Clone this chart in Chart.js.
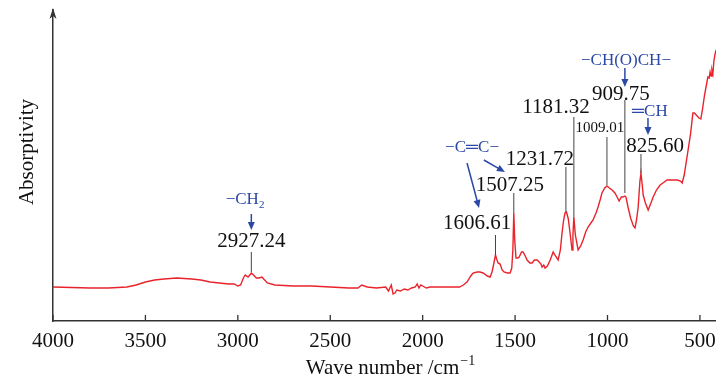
<!DOCTYPE html>
<html lang="en">
<head>
<meta charset="UTF-8">
<title>FTIR spectrum</title>
<script src="https://cdn.jsdelivr.net/npm/chart.js"></script>
<style>
  body { margin: 0; background: #fff; }
</style>
</head>
<body>
<canvas id="myChart" width="716" height="380"></canvas>
<script>
// spectrum (wave number in cm-1, absorptivity in arbitrary units)
const waveNumbers = [4000, 3900, 3800, 3700, 3600, 3550, 3500, 3450, 3400, 3330, 3250, 3200, 3150, 3100, 3050, 3020,
  3000, 2985, 2970, 2960, 2945, 2935, 2927, 2915, 2900, 2885, 2870, 2855, 2840, 2800, 2700, 2600, 2500, 2400,
  2350, 2330, 2300, 2250, 2200, 2185, 2170, 2160, 2150, 2140, 2120, 2100, 2080, 2060, 2040, 2030, 2020, 2010, 2000, 1980, 1960, 1900,
  1850, 1800, 1780, 1760, 1740, 1727, 1706, 1690, 1673, 1650, 1635, 1625, 1619, 1606, 1598, 1592, 1581, 1570,
  1560, 1540, 1527, 1518, 1512, 1507, 1502, 1495, 1485, 1478, 1465, 1457, 1445, 1435, 1420, 1408, 1395, 1380,
  1370, 1360, 1354, 1345, 1338, 1325, 1310, 1294, 1285, 1267, 1255, 1246, 1238, 1230, 1222, 1212, 1200, 1192, 1187,
  1182, 1174, 1159, 1145, 1132, 1118, 1105, 1090, 1078, 1060, 1051, 1040, 1030, 1015, 1003, 990, 975, 960,
  948, 937, 925, 916, 906, 900, 889, 875, 860, 851, 843, 834, 825, 819, 812, 807, 795, 780, 765, 753, 735, 715,
  700, 678, 650, 623, 605, 596, 585, 574, 564, 550, 538, 530, 515, 505, 495, 485, 475, 465, 457, 450, 445, 440,
  435, 430, 425, 420, 413];
const absorptivity = [34, 33.5, 33, 33, 34, 36, 39, 41, 42, 43, 42, 41, 39, 38, 37, 37,
  35, 36, 43, 46, 44, 46, 48, 46, 43, 43, 44, 41, 38, 36, 35, 35, 34, 33,
  33, 36, 34, 33, 34, 30, 36, 27, 28, 31, 30, 32, 31, 33, 34, 37, 33, 36, 35, 33, 34, 34,
  34, 34, 36, 39, 45, 48, 49, 49, 48, 45, 44, 49, 54, 66, 61, 58, 57, 51,
  49, 48, 48, 53, 71, 108, 81, 63, 63, 64, 69, 69, 65, 61, 58, 58, 61, 61,
  59, 57, 54, 56, 53, 55, 61, 69, 66, 61, 71, 88, 100, 108, 109, 102, 84, 71, 86,
  104, 86, 71, 75, 81, 89, 94, 98, 101, 109, 114, 121, 128, 133, 135, 133, 131, 128,
  124, 120, 124, 124, 125, 124, 114, 103, 95, 93, 101, 114, 139, 148, 136, 126, 118, 111, 118, 124, 131, 136,
  138, 141, 141, 141, 140, 138, 146, 159, 171, 188, 208, 208, 205, 203, 202, 213, 226, 236, 244, 243, 249, 245,
  251, 247, 259, 265, 271];
const tickVals = [4000, 3500, 3000, 2500, 2000, 1500, 1000, 500];

// peak labels: text, wave number of the peak
const peakTexts = ['2927.24', '1606.61', '1507.25', '1231.72', '1181.32', '1009.01', '909.75', '825.60'];
const peakAt = [2927, 1606, 1507, 1225, 1182, 1003, 906, 819];
// group labels (blue)
const groupTexts = ['\u2212CH|2', '\u2212C\u2550C\u2212', '\u2212CH(O)CH\u2212', '\u2550CH'];

// where the labels sit (label centre in data units, leader line top/bottom)
const peakLayout = [
  { lx: 2927, ly: 80, top: 69, bot: 49, size: 21 },
  { lx: 1706, ly: 98, top: 86, bot: 66, size: 21 },
  { lx: 1528, ly: 136, top: 128, bot: 108, size: 21 },
  { lx: 1366, ly: 162, top: 154, bot: 109, size: 21 },
  { lx: 1279, ly: 214, top: 204, bot: 104, size: 21 },
  { lx: 1041, ly: 193, top: 184, bot: 136, size: 15 },
  { lx: 927, ly: 227, top: 221, bot: 128, size: 21 },
  { lx: 743, ly: 175, top: 167, bot: 148, size: 21 }
];
const groupLayout = [
  { lx: 2961, ly: 121, arrows: [[2927, 107, 2927, 91]] },
  { lx: 1733, ly: 173, arrows: [[1760, 158, 1695, 113], [1669, 161, 1555, 149]] },
  { lx: 900, ly: 260, arrows: [[906, 253, 906, 234]] },
  { lx: 771, ly: 209, arrows: [[781, 203, 781, 186]] }
];

const serif = '"Liberation Serif", "Times New Roman", serif';
const blue = '#2b48a6';

function arrow(ctx, x1, y1, x2, y2) {
  const a = Math.atan2(y2 - y1, x2 - x1);
  const hl = 8, hw = 3.5;
  ctx.beginPath();
  ctx.moveTo(x1, y1);
  ctx.lineTo(x2 - Math.cos(a) * hl * 0.8, y2 - Math.sin(a) * hl * 0.8);
  ctx.stroke();
  ctx.beginPath();
  ctx.moveTo(x2, y2);
  ctx.lineTo(x2 - Math.cos(a) * hl - Math.sin(a) * hw, y2 - Math.sin(a) * hl + Math.cos(a) * hw);
  ctx.lineTo(x2 - Math.cos(a) * hl + Math.sin(a) * hw, y2 - Math.sin(a) * hl - Math.cos(a) * hw);
  ctx.closePath();
  ctx.fill();
}

const decor = {
  id: 'decor',
  afterDraw(chart) {
    const ctx = chart.ctx;
    const xs = chart.scales.x, ys = chart.scales.y;
    const X = v => xs.getPixelForValue(v), Y = v => ys.getPixelForValue(v);
    const area = chart.chartArea;
    ctx.save();

    // inward ticks on the x axis
    ctx.strokeStyle = '#333';
    ctx.lineWidth = 1.3;
    tickVals.forEach(v => {
      ctx.beginPath();
      ctx.moveTo(X(v), area.bottom);
      ctx.lineTo(X(v), area.bottom - 6);
      ctx.stroke();
    });

    // arrow head on the y axis
    ctx.fillStyle = '#333';
    ctx.beginPath();
    ctx.moveTo(area.left, area.top - 2);
    ctx.lineTo(area.left - 3.5, area.top + 9);
    ctx.lineTo(area.left, area.top + 6);
    ctx.lineTo(area.left + 3.5, area.top + 9);
    ctx.closePath();
    ctx.fill();

    // axis titles
    ctx.fillStyle = '#111';
    ctx.textBaseline = 'middle';
    ctx.textAlign = 'left';
    const t = 'Wave number /cm';
    ctx.font = '21px ' + serif;
    const tw = ctx.measureText(t).width;
    ctx.font = '14px ' + serif;
    const sw = ctx.measureText('\u22121').width;
    const tx = 390 - (tw + sw) / 2;
    ctx.font = '21px ' + serif;
    ctx.fillText(t, tx, 368);
    ctx.font = '14px ' + serif;
    ctx.fillText('\u22121', tx + tw + 1, 361);

    ctx.save();
    ctx.translate(27, 152);
    ctx.rotate(-Math.PI / 2);
    ctx.textAlign = 'center';
    ctx.font = '21px ' + serif;
    ctx.fillText('Absorptivity', 0, 0);
    ctx.restore();

    // peak labels with leader lines
    peakTexts.forEach((txt, i) => {
      const p = peakLayout[i];
      ctx.strokeStyle = '#444';
      ctx.lineWidth = 1;
      ctx.beginPath();
      ctx.moveTo(X(peakAt[i]), Y(p.top));
      ctx.lineTo(X(peakAt[i]), Y(p.bot));
      ctx.stroke();
      ctx.fillStyle = '#111';
      ctx.font = p.size + 'px ' + serif;
      ctx.textAlign = 'center';
      ctx.fillText(txt, X(p.lx), Y(p.ly));
    });

    // blue group labels with arrows
    ctx.fillStyle = blue;
    ctx.strokeStyle = blue;
    ctx.lineWidth = 1.5;
    groupTexts.forEach((txt, i) => {
      const g = groupLayout[i];
      const parts = txt.split('|');
      ctx.font = '17px ' + serif;
      const w0 = ctx.measureText(parts[0]).width;
      let w1 = 0;
      if (parts[1]) { ctx.font = '11px ' + serif; w1 = ctx.measureText(parts[1]).width; }
      const x0 = X(g.lx) - (w0 + w1) / 2;
      ctx.textAlign = 'left';
      ctx.font = '17px ' + serif;
      ctx.fillText(parts[0], x0, Y(g.ly));
      if (parts[1]) { ctx.font = '11px ' + serif; ctx.fillText(parts[1], x0 + w0, Y(g.ly) + 5); }
      g.arrows.forEach(a => arrow(ctx, X(a[0]), Y(a[1]), X(a[2]), Y(a[3])));
    });
    ctx.restore();
  }
};

const ctx = document.getElementById('myChart').getContext('2d');
new Chart(ctx, {
  type: 'line',
  data: {
    datasets: [{
      data: waveNumbers.map((w, i) => ({ x: w, y: absorptivity[i] })),
      borderColor: '#e8232b',
      borderWidth: 1.4,
      pointRadius: 0,
      tension: 0
    }]
  },
  options: {
    responsive: false,
    animation: false,
    layout: { padding: { top: 10, right: 0, left: 0, bottom: 0 } },
    plugins: { legend: { display: false }, tooltip: { enabled: false } },
    scales: {
      x: {
        type: 'linear',
        reverse: true,
        min: 413,
        max: 4000,
        afterBuildTicks: s => { s.ticks = tickVals.map(v => ({ value: v })); },
        afterFit: s => { s.height = 59; s.paddingLeft = 0; s.paddingRight = 0; },
        grid: { display: false, drawTicks: false },
        border: { display: true, color: '#333', width: 1.5 },
        ticks: { padding: 8, color: '#111', font: { family: serif, size: 21 }, callback: v => String(v) }
      },
      y: {
        min: 0,
        max: 311,
        afterFit: s => { s.width = 53; },
        grid: { display: false, drawTicks: false },
        border: { display: true, color: '#333', width: 1.5 },
        ticks: { display: false }
      }
    }
  },
  plugins: [decor]
});
</script>
</body>
</html>
